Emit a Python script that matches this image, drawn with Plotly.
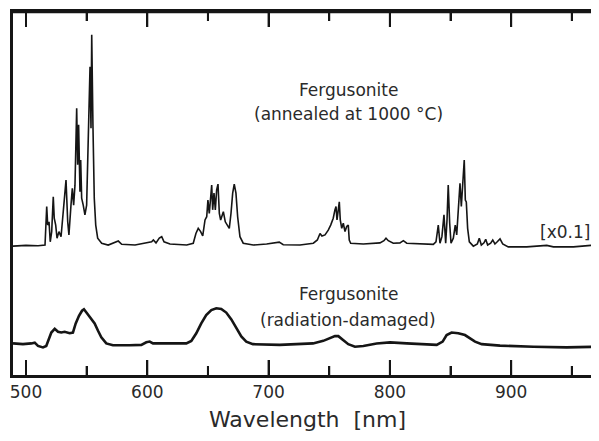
import plotly.graph_objects as go

# ---- Data (wavelength in nm, intensity in arbitrary stacked units) ----
annealed_wl = [489.3, 500, 510, 515.7, 517.1, 517.9, 519.0, 520.0, 521.2, 522.5, 523.3, 524.5,
               525.6, 527.2, 528.9, 530.8, 533.0, 534.4, 535.4, 537.1, 538.2, 539.3, 540.4,
               541.8, 542.6, 543.4, 544.5, 545.1, 545.9, 547.2, 548.6, 550.0, 551.4, 552.8,
               553.6, 554.2, 555.2, 556.3, 557.5, 559.1, 562.4, 567.8, 576.1, 578.9, 589.9,
               594.0, 603.6, 605.0, 607.2, 609.9, 611.9, 613.8, 618.7, 632.5, 637.9, 640.1,
               642.0, 644.0, 645.7, 647.6, 649.0, 650.0, 651.1, 652.3, 653.1, 653.9, 655.0,
               656.1, 657.2, 658.3, 659.4, 660.5, 662.7, 664.3, 666.0, 667.6, 669.0, 670.4,
               671.7, 673.1, 674.5, 676.4, 679.1, 687.4, 698.4, 708.8, 712.1, 725.9, 736.9,
               740.2, 742.4, 744.0, 746.5, 749.2, 751.2, 753.3, 754.7, 755.6, 756.4, 757.5,
               758.3, 759.1, 760.3, 761.6, 763.0, 764.4, 765.7, 766.5, 767.7, 778.1, 791.8,
               795.1, 796.8, 798.7, 802.8, 808.3, 811.1, 813.9, 824.8, 835.8, 838.0, 839.9,
               841.3, 842.9, 844.6, 846.0, 847.1, 848.1, 849.3, 850.4, 852.3, 853.9, 855.1,
               856.4, 857.8, 858.9, 860.0, 861.3, 862.2, 863.0, 864.1, 865.5, 868.8, 872.1,
               873.7, 875.4, 877.6, 879.0, 880.6, 883.1, 884.8, 886.6, 888.5, 890.8, 893.0,
               897.6, 912.8, 929.3, 934.8, 951.3, 969.1, 973.2]
annealed_int = [35.5, 35.7, 35.6, 35.8, 46.4, 41.3, 42.2, 36.7, 39.5, 49.1, 43.2, 41.3,
                37.7, 39.5, 38.1, 45.0, 53.7, 42.2, 38.6, 46.8, 51.4, 46.8, 52.3,
                73.5, 57.9, 68.9, 50.5, 59.2, 48.7, 46.8, 44.1, 46.8, 68.9, 84.9,
                68.0, 93.7, 68.9, 48.7, 41.3, 37.7, 36.3, 35.8, 36.9, 36.0, 35.8,
                36.1, 36.7, 37.2, 36.4, 37.7, 38.1, 36.7, 36.1, 35.8, 36.3, 39.0,
                40.4, 39.5, 38.3, 42.7, 43.6, 48.2, 44.5, 49.1, 52.3, 45.5, 50.1,
                45.5, 51.0, 52.6, 44.5, 42.7, 45.0, 42.2, 41.3, 40.4, 44.5, 50.1,
                52.6, 50.1, 43.6, 38.1, 36.3, 35.8, 36.1, 36.6, 35.9, 35.8, 36.3,
                37.2, 39.0, 38.3, 38.6, 39.9, 41.3, 43.2, 45.5, 46.4, 42.7, 45.9,
                47.7, 42.7, 40.4, 41.8, 39.5, 40.9, 41.3, 37.2, 36.3, 36.1, 36.4,
                37.0, 37.7, 37.0, 36.3, 36.4, 37.0, 36.3, 36.1, 36.0, 36.7, 41.3,
                36.3, 38.1, 44.1, 36.3, 42.7, 52.3, 41.8, 36.3, 37.7, 41.3, 38.6,
                46.4, 52.8, 46.4, 51.9, 59.2, 48.2, 47.7, 40.4, 36.7, 35.5, 36.1,
                37.7, 35.8, 36.4, 37.4, 35.8, 36.3, 37.2, 36.1, 36.7, 37.5, 36.1,
                35.3, 35.3, 35.7, 35.3, 35.3, 35.8, 35.5]

damaged_wl = [489.3, 497.5, 504.4, 507.2, 509.9, 514.0, 516.7, 519.0, 520.9, 523.7, 526.4,
              529.1, 531.9, 536.0, 538.7, 541.0, 543.7, 546.2, 547.8, 550.3, 553.8, 556.6,
              559.4, 562.1, 566.2, 571.7, 585.5, 595.1, 599.2, 602.0, 604.7, 618.5, 632.2,
              636.3, 640.4, 644.5, 648.6, 652.8, 656.9, 661.0, 665.1, 669.3, 673.4, 677.5,
              681.6, 687.1, 709.2, 736.6, 745.1, 750.6, 754.7, 757.5, 761.1, 765.7, 771.2,
              778.1, 789.1, 800.1, 813.9, 827.5, 838.6, 843.5, 846.8, 850.9, 856.4, 861.9,
              866.0, 870.2, 875.7, 890.8, 918.3, 945.7, 972.4]
damaged_int = [8.7, 8.5, 8.7, 8.9, 8.0, 7.6, 8.0, 10.1, 11.7, 12.7, 11.9,
               11.7, 11.9, 11.5, 11.7, 14.2, 16.3, 17.7, 18.1, 17.0, 15.6, 14.2,
               12.2, 10.4, 8.7, 8.2, 8.2, 8.3, 9.0, 9.2, 8.7, 8.7, 8.7,
               9.4, 11.5, 14.2, 16.5, 17.9, 18.4, 18.2, 17.2, 15.3, 12.9, 10.6,
               9.2, 8.5, 8.3, 8.7, 9.4, 10.1, 10.7, 10.7, 9.8, 8.5, 7.8,
               8.0, 8.7, 9.0, 8.7, 8.5, 8.3, 9.2, 11.0, 11.7, 11.5, 11.0,
               10.1, 9.2, 8.5, 8.1, 7.8, 7.6, 7.8]

major_ticks = [500, 600, 700, 800, 900]
major_labels = ["500", "600", "700", "800", "900"]
minor_ticks = [550, 650, 750, 850, 950]

FONT = "DejaVu Sans"
TXT = "#2a2a2a"
LINE = "#151515"
X_RANGE = [489.3, 965.8]

# the page body keeps its default 8 px margin; the figure fills the remaining window
W, H = 583, 425
M = dict(l=5, r=0, t=4, b=58)
PLOT_H = H - M["t"] - M["b"]
MAJOR_LEN = 15 / PLOT_H
MINOR_LEN = 9 / PLOT_H

fig = go.Figure()
fig.add_trace(go.Scatter(x=annealed_wl, y=annealed_int, mode="lines",
                         line=dict(color=LINE, width=1.6), showlegend=False,
                         hoverinfo="skip"))
fig.add_trace(go.Scatter(x=damaged_wl, y=damaged_int, mode="lines",
                         line=dict(color=LINE, width=2.6), showlegend=False,
                         hoverinfo="skip"))

ann_font = dict(family=FONT, size=17, color=TXT)
fig.add_annotation(x=765.5, y=78.5, text="Fergusonite", showarrow=False, font=ann_font,
                   xanchor="center", yanchor="middle")
fig.add_annotation(x=765.5, y=72.0, text="(annealed at 1000 °C)", showarrow=False, font=ann_font,
                   xanchor="center", yanchor="middle")
fig.add_annotation(x=765.5, y=22.3, text="Fergusonite", showarrow=False, font=ann_font,
                   xanchor="center", yanchor="middle")
fig.add_annotation(x=765.5, y=15.2, text="(radiation-damaged)", showarrow=False, font=ann_font,
                   xanchor="center", yanchor="middle")
fig.add_annotation(x=944.5, y=39.4, text="[x0.1]", showarrow=False, font=ann_font,
                   xanchor="center", yanchor="middle")
fig.add_annotation(xref="paper", yref="paper", x=0.51, y=-0.122,
                   text="Wavelength\u00a0\u00a0[nm]", showarrow=False,
                   font=dict(family=FONT, size=22, color=TXT),
                   xanchor="center", yanchor="middle")

# frame top edge and inward ticks on bottom and top edges (positioned on the x scale)
fig.add_shape(type="line", xref="paper", yref="paper", x0=0, x1=1, y0=1, y1=1,
              line=dict(color=LINE, width=2.5), layer="above")
for v in major_ticks:
    fig.add_shape(type="line", xref="x", yref="paper", x0=v, x1=v, y0=0, y1=MAJOR_LEN,
                  line=dict(color=LINE, width=2), layer="above")
    fig.add_shape(type="line", xref="x", yref="paper", x0=v, x1=v, y0=1, y1=1 - MAJOR_LEN,
                  line=dict(color=LINE, width=2), layer="above")
for v in minor_ticks:
    fig.add_shape(type="line", xref="x", yref="paper", x0=v, x1=v, y0=0, y1=MINOR_LEN,
                  line=dict(color=LINE, width=2), layer="above")
    fig.add_shape(type="line", xref="x", yref="paper", x0=v, x1=v, y0=1, y1=1 - MINOR_LEN,
                  line=dict(color=LINE, width=2), layer="above")

fig.update_layout(
    width=W, height=H, margin=M,
    paper_bgcolor="white", plot_bgcolor="white",
    modebar=dict(bgcolor="rgba(0,0,0,0)", color="rgba(0,0,0,0)",
                 activecolor="rgba(0,0,0,0)"),
    xaxis=dict(range=X_RANGE, showgrid=False, zeroline=False,
               showline=True, linecolor=LINE, linewidth=2.5, mirror="allticks",
               ticks="inside", ticklen=15, tickwidth=2, tickcolor=LINE,
               tickvals=major_ticks, ticktext=major_labels,
               tickfont=dict(family=FONT, size=17, color=TXT),
               minor=dict(dtick=50, tick0=0, ticks="inside", ticklen=9, tickwidth=2,
                          tickcolor=LINE, showgrid=False)),
    yaxis=dict(range=[0, 100], showgrid=False, zeroline=False, showline=True,
               linecolor=LINE, linewidth=2.5, ticks="", showticklabels=False),
)

fig.write_html("out.html")
